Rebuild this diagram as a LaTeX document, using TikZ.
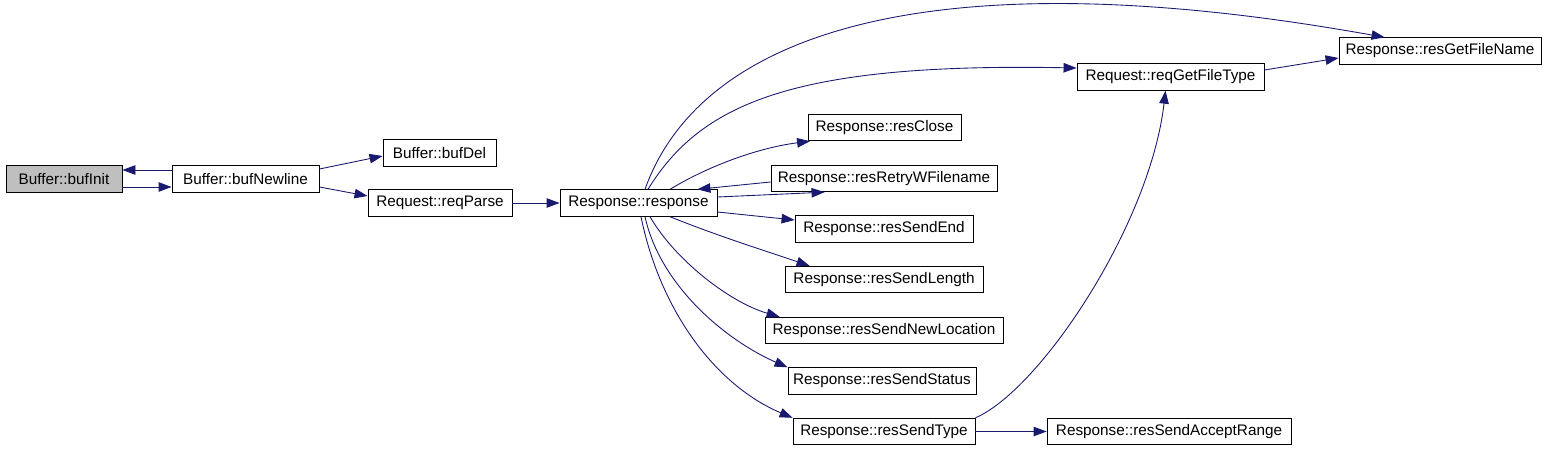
\documentclass[tikz,border=0pt]{standalone}
\usepackage{fontspec}
\setsansfont{Liberation Sans}
\usetikzlibrary{arrows.meta, calc}
\definecolor{callblue}{RGB}{25, 25, 112}
\definecolor{rootgray}{RGB}{191, 191, 191}

\begin{document}
\begin{tikzpicture}[
  every node/.style={font=\fontsize{8.7}{10}\selectfont\sffamily},
  fn/.style={rectangle, draw=black, fill=white, line width=0.5pt,
             minimum height=0.53cm, inner sep=2pt},
  call/.style={draw=callblue, line width=0.5pt,
               -{Triangle[length=0.26cm, width=0.19cm]}}
]

\useasboundingbox (0,0) rectangle (30.94,9.0);

% Left part: buffer and request parsing
\node[fn, fill=rootgray, minimum width=2.32cm] (bufInit) at (1.28, 5.42) {Buffer::bufInit};
\node[fn, minimum width=2.94cm] (bufNewline) at (4.91, 5.42) {Buffer::bufNewline};
\node[fn, minimum width=2.26cm] (bufDel)     at (8.79, 5.94) {Buffer::bufDel};
\node[fn, minimum width=2.88cm] (reqParse)   at (8.80, 4.94) {Request::reqParse};
\node[fn, minimum width=3.14cm] (response)   at (12.77,4.94) {Response::response};

% Callees of Response::response, one column
\node[fn, minimum width=3.06cm] (resClose)           at (17.69,6.45) {Response::resClose};
\node[fn, minimum width=4.52cm] (resRetryWFilename)  at (17.68,5.43) {Response::resRetryWFilename};
\node[fn, minimum width=3.56cm] (resSendEnd)         at (17.68,4.42) {Response::resSendEnd};
\node[fn, minimum width=3.96cm] (resSendLength)      at (17.68,3.41) {Response::resSendLength};
\node[fn, minimum width=4.76cm] (resSendNewLocation) at (17.68,2.39) {Response::resSendNewLocation};
\node[fn, minimum width=3.76cm] (resSendStatus)      at (17.64,1.38) {Response::resSendStatus};
\node[fn, minimum width=3.64cm] (resSendType)        at (17.68,0.37) {Response::resSendType};

% Right part
\node[fn, minimum width=3.74cm] (reqGetFileType)     at (23.41,7.46) {Request::reqGetFileType};
\node[fn, minimum width=4.04cm] (resGetFileName)     at (28.80,7.98) {Response::resGetFileName};
\node[fn, minimum width=4.88cm] (resSendAcceptRange) at (23.38,0.37) {Response::resSendAcceptRange};

% Straight calls
\draw[call] ([yshift=0.18cm]bufNewline.west) -- ([yshift=0.18cm]bufInit.east);
\draw[call] ([yshift=-0.16cm]bufInit.east) -- ([yshift=-0.16cm]bufNewline.west);
\draw[call] ([yshift=0.2cm]bufNewline.east) -- ([yshift=-0.06cm]bufDel.west);
\draw[call] ([yshift=-0.16cm]bufNewline.east) -- ([yshift=0.14cm]reqParse.west);
\draw[call] (reqParse) -- (response);
\draw[call] ([yshift=-0.07cm]resRetryWFilename.west) -- ([xshift=-0.4cm]response.north east);
\draw[call] ([yshift=0.12cm]response.east) -- ([xshift=1.08cm]resRetryWFilename.south west);
\draw[call] ([yshift=-0.18cm]response.east) -- ([yshift=0.18cm]resSendEnd.west);
\draw[call] ([yshift=0.14cm]reqGetFileType.east) -- ([yshift=-0.14cm]resGetFileName.west);
\draw[call] (resSendType) -- (resSendAcceptRange);

% Curved calls out of Response::response
\draw[call] ([xshift=0.13cm]response.north) .. controls (14.0,8.3) and (18.5,9.9)
  .. ([xshift=0.92cm]resGetFileName.north west);
\draw[call] ([xshift=0.19cm]response.north) .. controls (14.0,6.9) and (15.8,7.75)
  .. ([yshift=0.18cm]reqGetFileType.west);
\draw[call] ([xshift=0.63cm]response.north) .. controls (14.2,5.7) and (15.2,6.05)
  .. ([xshift=0.05cm]resClose.south west);
\draw[call] ([xshift=0.63cm]response.south) .. controls (14.3,4.3) and (15.4,3.95)
  .. ([xshift=0.5cm]resSendLength.north west);
\draw[call] ([xshift=0.23cm]response.south) .. controls (13.5,3.8) and (14.6,2.95)
  .. ([xshift=0.3cm]resSendNewLocation.north west);
\draw[call] ([xshift=0.13cm]response.south) .. controls (13.2,3.3) and (14.5,2.2)
  .. (resSendStatus.north west);
\draw[call] ([xshift=0.05cm]response.south) .. controls (13.2,2.8) and (14.3,1.3)
  .. (resSendType.north west);

% Back up to the file type lookup
\draw[call] (resSendType.north east) .. controls (20.8,1.2) and (23.0,4.5)
  .. ([xshift=-0.1cm]reqGetFileType.south);

\end{tikzpicture}
\end{document}
